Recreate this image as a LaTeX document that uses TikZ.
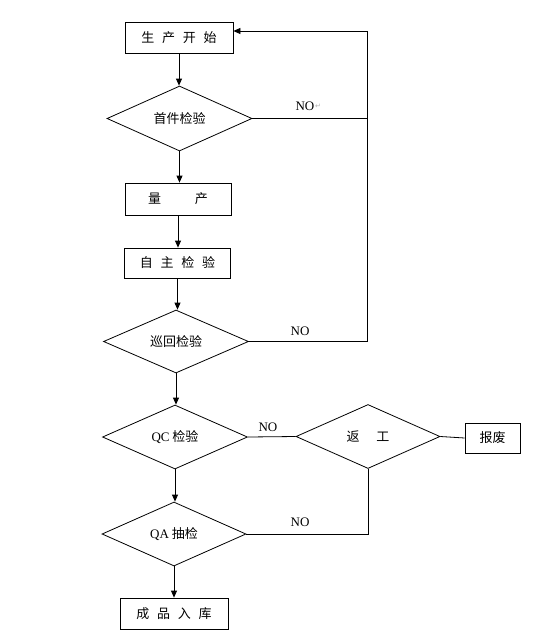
\documentclass[tikz,border=0pt]{standalone}
\usepackage{fontspec}
\setmainfont{Liberation Serif}
\newfontfamily\cjk{Noto Sans CJK SC}
\usetikzlibrary{shapes.geometric,arrows.meta}
\begin{document}
\begin{tikzpicture}[x=1pt,y=-1pt,
  line width=0.8pt,
  box/.style={draw, rectangle, inner sep=0pt, font=\cjk\fontsize{13}{15}\selectfont},
  dia/.style={draw, diamond, aspect=2.27, inner sep=0pt, minimum width=145pt, minimum height=64pt, font=\cjk\fontsize{13}{15}\selectfont},
  arr/.style={-{Triangle[length=7pt,width=6pt]}},
  lbl/.style={font=\fontsize{13}{15}\selectfont, inner sep=0pt}
]
\useasboundingbox (0,0) rectangle (533,638);
\fill[white] (0,0) rectangle (533,638);

% boxes
\node[box, minimum width=108pt, minimum height=31pt] (b1) at (179,37.5) {生\hspace{0.6em}产\hspace{0.6em}开\hspace{0.6em}始};
\node[box, minimum width=106pt, minimum height=32pt] (b2) at (178,199) {量\hspace{2.6em}产};
\node[box, minimum width=106pt, minimum height=30pt] (b3) at (177.5,263) {自\hspace{0.6em}主\hspace{0.6em}检\hspace{0.6em}验};
\node[box, minimum width=55pt, minimum height=30pt] (b4) at (492.5,438) {报废};
\node[box, minimum width=108pt, minimum height=31pt] (b5) at (174,613.5) {成\hspace{0.6em}品\hspace{0.6em}入\hspace{0.6em}库};

% diamonds
\node[dia, minimum height=65pt] (d1) at (179.5,118.5) {首件检验};
\node[dia, minimum height=63pt] (d2) at (176,341.5) {巡回检验};
\node[dia] (d3) at (175,437) {{\rmfamily QC} 检验};
\node[dia, minimum width=144pt] (d4) at (368,436.5) {返\hspace{1.3em}工};
\node[dia, minimum width=144pt] (d5) at (174,534) {{\rmfamily QA} 抽检};

% main flow
\draw[arr] (b1) -- (b1 |- d1.north);
\draw[arr] (d1) -- (d1 |- b2.north);
\draw[arr] (b2) -- (b2 |- b3.north);
\draw[arr] (b3) -- (b3 |- d2.north);
\draw[arr] (d2) -- (d2 |- d3.north);
\draw[arr] (d3) -- (d3 |- d5.north);
\draw[arr] (d5) -- (d5 |- b5.north);

% feedback loop
\coordinate (fbtop) at (367,31);
\draw[arr] (d2.east) -- (d2.east -| fbtop) -- (fbtop) -- (b1.east |- fbtop);
\draw (d1.east) -- (d1.east -| fbtop);

% QC to rework
\draw (d3.east) -- (d4.west);
\draw (d4.east) -- (b4.west);
\draw (d5.east) -- (d5.east -| d4.south) -- (d4.south);

% labels
\node[lbl] (n1) at (305,106) {NO};
\node[anchor=west, inner sep=0pt, text=gray!60, font=\fontspec{DejaVu Sans}\fontsize{7}{8}\selectfont] (n1r) at (n1.east) {↵};
\node[lbl] (n2) at (300,331) {NO};
\node[lbl] (n3) at (268,427) {NO};
\node[lbl] (n4) at (300,522) {NO};
\end{tikzpicture}
\end{document}
